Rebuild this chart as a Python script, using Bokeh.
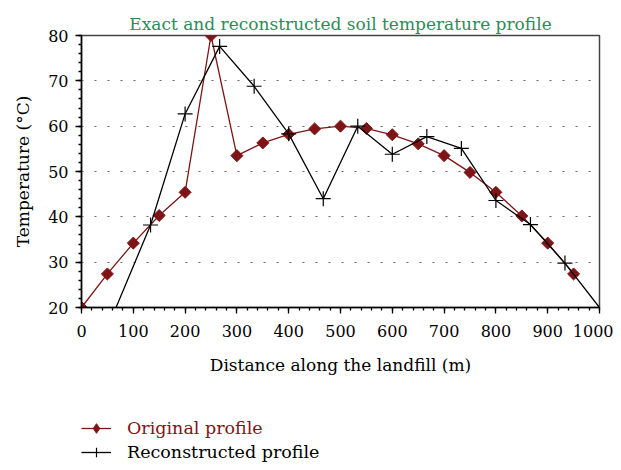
import math
from bokeh.plotting import figure
from bokeh.layouts import column
from bokeh.models import Legend, LegendItem, Range1d, FixedTicker
from bokeh.embed import file_html
from bokeh.resources import INLINE

# Original (exact) profile
orig_x = [0, 50, 100, 150, 200, 250, 300, 350, 400, 450, 500, 550, 600, 650, 700, 750, 800, 850, 900, 950]
orig_y = [20, 27.4, 34.2, 40.3, 45.4, 80, 53.5, 56.3, 58.2, 59.4, 60, 59.5, 58.1, 56.1, 53.5, 49.8, 45.4, 40.2, 34.2, 27.4]

# Reconstructed profile
rec_x = [66.7, 133.3, 200, 266.7, 333.3, 400, 466.7, 533.3, 600, 666.7, 733.3, 800, 866.7, 933.3, 1000]
rec_y = [20, 38.2, 62.7, 77.6, 68.8, 58.3, 44, 60, 53.8, 57.7, 55.1, 43.6, 38.3, 29.8, 20]

x_ticks = [0, 100, 200, 300, 400, 500, 600, 700, 800, 900, 1000]
y_ticks = [20, 30, 40, 50, 60, 70, 80]

RED = "#7f1416"
GREEN = "#2e8b57"
FONT = "DejaVu Serif"

p = figure(width=605, height=380, output_backend="svg", toolbar_location=None,
           x_range=Range1d(0, 1000), y_range=Range1d(20, 80),
           min_border_left=73, min_border_right=14, min_border_top=27, min_border_bottom=81)

p.title.text = "Exact and reconstructed soil temperature profile"
p.title.align = "center"
p.title.vertical_align = "top"
p.title.text_font = FONT
p.title.text_font_style = "normal"
p.title.text_font_size = "17px"
p.title.text_color = GREEN
p.title.standoff = 0

p.outline_line_color = "#444444"
p.outline_line_width = 1.5
p.xgrid.grid_line_color = None
p.ygrid.grid_line_color = "#666666"
p.ygrid.grid_line_dash = "2 11"
p.ygrid.grid_line_width = 1.2

for ax in (p.xaxis[0], p.yaxis[0]):
    ax.axis_line_color = "black"
    ax.axis_line_width = 1.5
    ax.major_tick_line_color = "black"
    ax.minor_tick_line_color = "black"
    ax.major_tick_line_width = 1.3
    ax.minor_tick_line_width = 1.3
    ax.major_tick_out = 6
    ax.major_tick_in = 0
    ax.minor_tick_out = 3
    ax.minor_tick_in = 0
    ax.major_label_text_font = FONT
    ax.major_label_text_font_size = "16px"
    ax.major_label_text_color = "black"
    ax.axis_label_text_font = FONT
    ax.axis_label_text_font_size = "17px"
    ax.axis_label_text_font_style = "normal"
    ax.axis_label_text_color = "black"

p.xaxis.ticker = FixedTicker(ticks=x_ticks, minor_ticks=list(range(0, 1001, 20)))
p.yaxis.ticker = FixedTicker(ticks=y_ticks, minor_ticks=list(range(20, 81, 2)))
p.ygrid.ticker = FixedTicker(ticks=y_ticks)
p.xaxis.axis_label = "Distance along the landfill (m)"
p.yaxis.axis_label = "Temperature (°C)"
p.xaxis.major_label_standoff = 11
p.xaxis.axis_label_standoff = 15
p.yaxis.major_label_standoff = 7
p.yaxis.axis_label_standoff = 12

p.line(orig_x, orig_y, line_color=RED, line_width=1.3)
p.scatter(orig_x, orig_y, marker="square", size=8.5, angle=math.pi / 4,
          fill_color=RED, line_color=RED)
p.line(rec_x, rec_y, line_color="black", line_width=1.3)
p.scatter(rec_x[1:-1], rec_y[1:-1], marker="cross", size=15, line_color="black", line_width=1.2)

# legend panel below the chart (its data ranges keep the series out of view;
# only the legend entries are visible)
lp = figure(width=605, height=74, output_backend="svg", toolbar_location=None,
            x_range=Range1d(-2000, -1000), y_range=Range1d(-200, -100),
            x_axis_location=None, y_axis_location=None,
            min_border_left=0, min_border_right=0, min_border_top=0, min_border_bottom=0)
lp.grid.visible = False
lp.outline_line_color = None
lr_line = lp.line(orig_x, orig_y, line_color=RED, line_width=1.3)
lr_mark = lp.scatter(orig_x, orig_y, marker="diamond", size=13,
                     fill_color=RED, line_color=RED)
lk_line = lp.line(rec_x, rec_y, line_color="black", line_width=1.3)
lk_mark = lp.scatter(rec_x, rec_y, marker="cross", size=15, line_color="black", line_width=1.2)

def make_legend(label, renderers, color, loc):
    lg = Legend(items=[LegendItem(label=label, renderers=renderers)], location=loc)
    lg.border_line_color = None
    lg.background_fill_alpha = 0
    lg.padding = 0
    lg.margin = 0
    lg.spacing = 0
    lg.glyph_width = 30
    lg.glyph_height = 24
    lg.label_height = 24
    lg.label_standoff = 16
    lg.label_text_font = FONT
    lg.label_text_font_size = "17.5px"
    lg.label_text_color = color
    return lg

lp.add_layout(make_legend("Original profile", [lr_line, lr_mark], RED, (0, 22)), "center")
lp.add_layout(make_legend("Reconstructed profile", [lk_line, lk_mark], "black", (0, -2)), "center")

layout = column(p, lp, spacing=0)
html = file_html(layout, INLINE)
html = html.replace("</head>", "<style>body{margin:8px;}</style></head>")
open("out.html", "w").write(html)
